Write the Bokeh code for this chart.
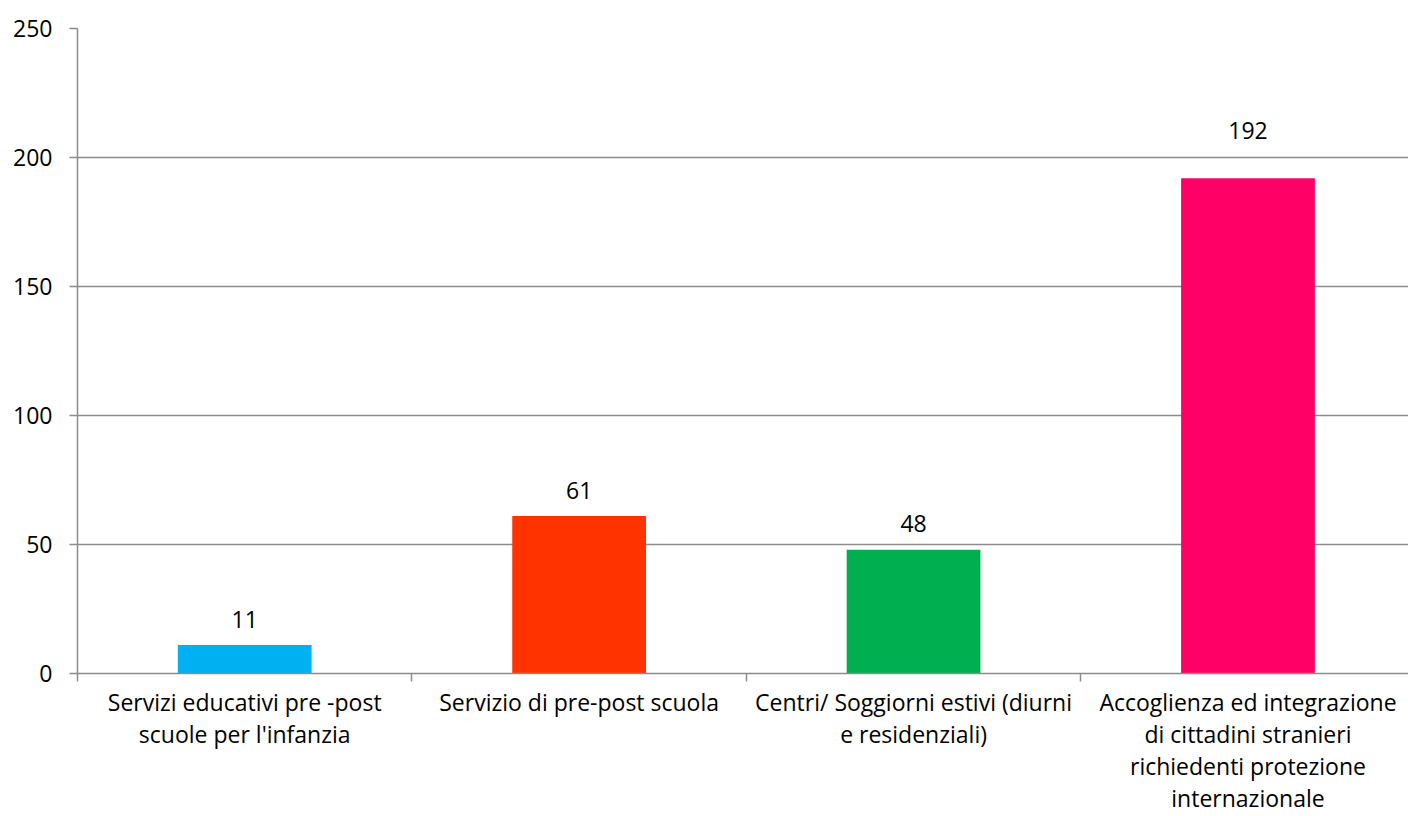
from bokeh.plotting import figure
from bokeh.models import Range1d, FixedTicker, ColumnDataSource
from bokeh.core.properties import value
from bokeh.embed import file_html
from bokeh.resources import INLINE

categories = [
    "Servizi educativi pre -post\nscuole per l'infanzia",
    "Servizio di pre-post scuola",
    "Centri/ Soggiorni estivi (diurni\ne residenziali)",
    "Accoglienza ed integrazione\ndi cittadini stranieri\nrichiedenti protezione\ninternazionale",
]
values = [11, 61, 48, 192]
colors = ["#00B0F0", "#FF3300", "#00B050", "#FF0066"]
y_ticks = [0, 50, 100, 150, 200, 250]
# pixel offsets of the data labels above the bars (style)
label_offsets = [-26, -26, -26, -48]

FONT = "Open Sans"
FS = "23px"
GRID = "#8c8c8c"

positions = [i + 0.5 for i in range(len(categories))]
src = ColumnDataSource(dict(x=positions, top=values, color=colors,
                            label=[str(v) for v in values], yoff=label_offsets))

p = figure(width=1408, height=816, output_backend="svg", toolbar_location=None,
           x_range=Range1d(0, 3.98), y_range=Range1d(0, 250),
           min_border_left=77, min_border_top=28, min_border_right=0,
           min_border_bottom=141)
p.outline_line_color = None
p.background_fill_color = "white"
p.border_fill_color = "white"

p.vbar(x="x", top="top", bottom=0, width=0.4, fill_color="color",
       line_color=None, source=src)
p.text(x="x", y="top", text="label", source=src, text_align="center",
       text_baseline="alphabetic", y_offset="yoff", text_font=value(FONT),
       text_font_size=FS, text_color="black")

# y axis
p.yaxis.ticker = FixedTicker(ticks=y_ticks)
p.yaxis.axis_line_color = GRID
p.yaxis.axis_line_width = 1.5
p.yaxis.major_tick_line_color = GRID
p.yaxis.major_tick_line_width = 1.5
p.yaxis.major_tick_out = 8
p.yaxis.major_tick_in = 0
p.yaxis.minor_tick_line_color = None
p.yaxis.major_label_standoff = 17
p.yaxis.major_label_text_font = FONT
p.yaxis.major_label_text_font_size = FS
p.yaxis.major_label_text_color = "black"

# x axis
p.xaxis.ticker = FixedTicker(ticks=positions, minor_ticks=[0, 1, 2, 3, 4])
p.xaxis.major_label_overrides = {pos: lab for pos, lab in zip(positions, categories)}
p.xaxis.axis_line_color = GRID
p.xaxis.axis_line_width = 1.5
p.xaxis.major_tick_line_color = None
p.xaxis.minor_tick_line_color = GRID
p.xaxis.minor_tick_line_width = 1.5
p.xaxis.minor_tick_out = 8
p.xaxis.minor_tick_in = 0
p.xaxis.major_label_standoff = 4
p.xaxis.major_label_text_font = FONT
p.xaxis.major_label_text_font_size = FS
p.xaxis.major_label_text_color = "black"
p.xaxis.major_label_text_line_height = 1.0

p.xgrid.grid_line_color = None
p.ygrid.ticker = FixedTicker(ticks=y_ticks)
p.ygrid.grid_line_color = GRID
p.ygrid.grid_line_width = 1.5

open("out.html", "w").write(file_html(p, INLINE))
